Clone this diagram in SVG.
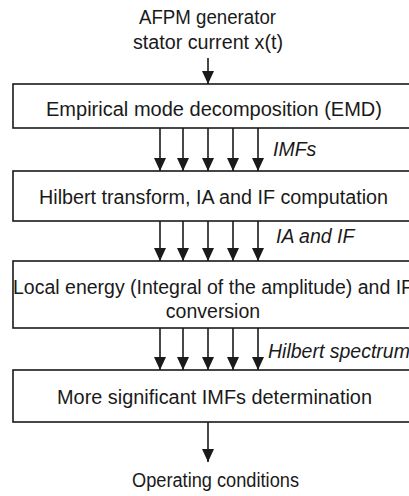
<svg xmlns="http://www.w3.org/2000/svg" width="409" height="496" viewBox="0 0 409 496">
<defs>
<style>
.box{fill:#fff;stroke:#1a1a1a;stroke-width:1.6}
.t{font-family:"Liberation Sans",Arial,sans-serif;font-size:19.5px;fill:#1a1a1a}
.l{font-family:"Liberation Sans",Arial,sans-serif;font-size:19.5px;font-style:italic;fill:#1a1a1a}
.c{stroke:#1a1a1a;stroke-width:1.6;fill:none}
</style>
<marker id="ah" markerWidth="13" markerHeight="13" refX="13" refY="6.5" orient="auto" markerUnits="userSpaceOnUse">
<path d="M0,0.5 L13,6.5 L0,12.5 Z" fill="#1a1a1a"/>
</marker>
</defs>
<rect width="409" height="496" fill="#fff"/>
<g id="input">
<text class="t" x="207.5" y="24" text-anchor="middle" textLength="137" lengthAdjust="spacingAndGlyphs">AFPM generator</text>
<text class="t" x="208" y="49" text-anchor="middle" textLength="150" lengthAdjust="spacingAndGlyphs">stator current x(t)</text>
</g>
<g id="emd">
<rect class="box" x="13" y="84" width="410" height="44"/>
<text class="t" x="46" y="116" textLength="336" lengthAdjust="spacingAndGlyphs">Empirical mode decomposition (EMD)</text>
</g>
<g id="hilbert">
<rect class="box" x="13" y="171" width="410" height="50"/>
<text class="t" x="39" y="204" textLength="349" lengthAdjust="spacingAndGlyphs">Hilbert transform, IA and IF computation</text>
</g>
<g id="energy">
<rect class="box" x="13" y="261" width="410" height="67"/>
<text class="t" x="13" y="294">Local energy (Integral of the amplitude) and IF</text>
<text class="t" x="213" y="318" text-anchor="middle">conversion</text>
</g>
<g id="significant">
<rect class="box" x="13" y="370" width="410" height="52"/>
<text class="t" x="57" y="404" textLength="315" lengthAdjust="spacingAndGlyphs">More significant IMFs determination</text>
</g>
<g id="output">
<text class="t" x="132" y="487" textLength="167" lengthAdjust="spacingAndGlyphs">Operating conditions</text>
</g>
<g id="connectors">
<line class="c" x1="208" y1="58" x2="208" y2="84" marker-end="url(#ah)"/>
<line class="c" x1="160" y1="128" x2="160" y2="171" marker-end="url(#ah)"/>
<line class="c" x1="183" y1="128" x2="183" y2="171" marker-end="url(#ah)"/>
<line class="c" x1="208" y1="128" x2="208" y2="171" marker-end="url(#ah)"/>
<line class="c" x1="233" y1="128" x2="233" y2="171" marker-end="url(#ah)"/>
<line class="c" x1="258" y1="128" x2="258" y2="171" marker-end="url(#ah)"/>
<line class="c" x1="160" y1="221" x2="160" y2="261" marker-end="url(#ah)"/>
<line class="c" x1="183" y1="221" x2="183" y2="261" marker-end="url(#ah)"/>
<line class="c" x1="208" y1="221" x2="208" y2="261" marker-end="url(#ah)"/>
<line class="c" x1="233" y1="221" x2="233" y2="261" marker-end="url(#ah)"/>
<line class="c" x1="258" y1="221" x2="258" y2="261" marker-end="url(#ah)"/>
<line class="c" x1="160" y1="328" x2="160" y2="370" marker-end="url(#ah)"/>
<line class="c" x1="183" y1="328" x2="183" y2="370" marker-end="url(#ah)"/>
<line class="c" x1="208" y1="328" x2="208" y2="370" marker-end="url(#ah)"/>
<line class="c" x1="233" y1="328" x2="233" y2="370" marker-end="url(#ah)"/>
<line class="c" x1="258" y1="328" x2="258" y2="370" marker-end="url(#ah)"/>
<line class="c" x1="208" y1="422" x2="208" y2="462" marker-end="url(#ah)"/>
<text class="l" x="273" y="156">IMFs</text>
<text class="l" x="276" y="243">IA and IF</text>
<text class="l" x="268" y="358">Hilbert spectrum</text>
</g>
</svg>
